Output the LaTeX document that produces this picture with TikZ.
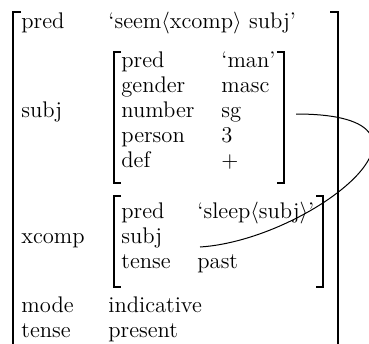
\documentclass[tikz,border=0pt]{standalone}
\begin{document}
\begin{tikzpicture}[x=0.5pt,y=-0.5pt,
  lbl/.style={anchor=base west,inner sep=0pt,font=\fontsize{11.3}{13}\selectfont},
  brk/.style={line width=1pt},
  link/.style={line width=0.5pt}]
\useasboundingbox (0,0) rectangle (369,343);
% outer f-structure
\node[lbl] (opred) at (21,28) {pred};
\node[lbl] (opredv) at (108,28) {`seem$\langle$xcomp$\rangle$ subj'};
\node[lbl] (osubj) at (21,117) {subj};
\node[lbl] (oxcomp) at (21,243) {xcomp};
\node[lbl] (omode) at (21,312) {mode};
\node[lbl] (omodev) at (108,312) {indicative};
\node[lbl] (otense) at (21,337) {tense};
\node[lbl] (otensev) at (108,337) {present};
% subj f-structure
\node[lbl] (spred) at (121,67) {pred};
\node[lbl] (spredv) at (221,67) {`man'};
\node[lbl] (sgen) at (121,92) {gender};
\node[lbl] (sgenv) at (221,92) {masc};
\node[lbl] (snum) at (121,117) {number};
\node[lbl] (snumv) at (221,117) {sg};
\node[lbl] (sper) at (121,142) {person};
\node[lbl] (sperv) at (221,142) {3};
\node[lbl] (sdef) at (121,167) {def};
\node[lbl] (sdefv) at (221,167) {$+$};
% xcomp f-structure
\node[lbl] (xpred) at (121,218) {pred};
\node[lbl] (xpredv) at (197,218) {`sleep$\langle$subj$\rangle$'};
\node[lbl] (xsubj) at (121,243) {subj};
\node[lbl] (xtense) at (121,268) {tense};
\node[lbl] (xtensev) at (197,268) {past};
% brackets
\draw[brk] (21,12) -- (13,12) -- (13,350);
\draw[brk] (330,12) -- (338,12) -- (338,350);
\draw[brk] (121,52) -- (114,52) -- (114,183) -- (121,183);
\draw[brk] (277,52) -- (284,52) -- (284,183) -- (277,183);
\draw[brk] (121,196) -- (114,196) -- (114,287) -- (121,287);
\draw[brk] (316,196) -- (323,196) -- (323,287) -- (316,287);
% structure sharing link
\coordinate (la) at (296,114);
\coordinate (lb) at (200,247);
\draw[link] (la) .. controls (470,114) and (310,240) .. (lb);
\end{tikzpicture}
\end{document}
